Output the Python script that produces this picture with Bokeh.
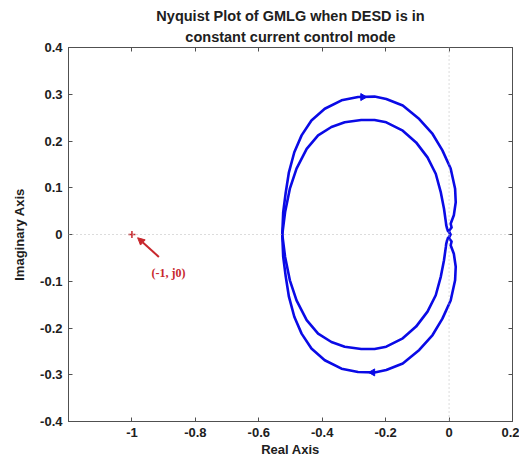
import math
from bokeh.plotting import figure
from bokeh.models import (Span, FixedTicker, LinearAxis, Range1d, Arrow, NormalHead,
                          Label, Title)
from bokeh.embed import file_html
from bokeh.resources import INLINE

# ---- data (upper half, positive imaginary part) ----
outer_re = [-0.526, -0.523, -0.515, -0.505, -0.488, -0.465, -0.434, -0.392, -0.339,
            -0.287, -0.235, -0.198, -0.146, -0.094, -0.052, -0.021, 0.005, 0.019,
            0.021, 0.015, 0.005]
outer_im = [0.000, 0.048, 0.090, 0.133, 0.176, 0.212, 0.244, 0.269, 0.287,
            0.294, 0.295, 0.290, 0.276, 0.247, 0.215, 0.180, 0.141, 0.098,
            0.069, 0.041, 0.023]
inner_re = [-0.526, -0.517, -0.502, -0.481, -0.449, -0.413, -0.371, -0.329, -0.277,
            -0.235, -0.198, -0.146, -0.104, -0.068, -0.042, -0.026, -0.016, -0.010]
inner_im = [0.000, 0.048, 0.098, 0.141, 0.183, 0.212, 0.230, 0.240, 0.245,
            0.245, 0.240, 0.222, 0.197, 0.165, 0.130, 0.090, 0.055, 0.026]
# small wiggle near the origin (from end of outer loop down to the real axis)
wig_re = [0.008, 0.002, -0.004, 0.002, 0.004]
wig_im = [0.015, 0.010, 0.008, 0.004, 0.000]
# from the real-axis crossing to the end of the (mirrored) inner loop
cross_re = [0.000, -0.006, -0.009]
cross_im = [-0.006, -0.012, -0.020]

arrow_re = [-0.272, -0.241]
arrow_im = [0.294, -0.295]

crit_re = [-1.0]
crit_im = [0.0]
annot_tail = (-0.915, -0.048)
annot_head = (-0.982, -0.007)
annot_text = "(-1, j0)"
annot_pos = (-0.885, -0.083)

x_ticks = [-1.0, -0.8, -0.6, -0.4, -0.2, 0.0, 0.2]
x_labels = ["-1", "-0.8", "-0.6", "-0.4", "-0.2", "0", "0.2"]
y_ticks = [-0.4, -0.3, -0.2, -0.1, 0.0, 0.1, 0.2, 0.3, 0.4]
y_labels = ["-0.4", "-0.3", "-0.2", "-0.1", "0", "0.1", "0.2", "0.3", "0.4"]

title_lines = ["Nyquist Plot of GMLG when DESD is in", "constant current control mode"]

# branch 1: upper outer -> wiggle -> lower inner ; branch 2: its conjugate
b1_re = outer_re + wig_re + cross_re + inner_re[::-1]
b1_im = outer_im + wig_im + cross_im + [-v for v in inner_im[::-1]]
b2_re = list(b1_re)
b2_im = [-v for v in b1_im]

FONT = "Liberation Sans"
DARK = "#202020"
AX = "#505050"

p = figure(width=519, height=463, output_backend="svg", toolbar_location=None,
           title=None,
           x_range=Range1d(-1.2, 0.2), y_range=Range1d(-0.4, 0.4),
           min_border_left=68, min_border_right=7, min_border_top=47, min_border_bottom=42)
p.background_fill_color = "white"
p.border_fill_color = "white"
p.grid.visible = False
p.outline_line_color = AX
p.outline_line_width = 1

for ax in [p.xaxis[0], p.yaxis[0]]:
    ax.axis_line_color = AX
    ax.major_tick_in = 4
    ax.major_tick_out = 0
    ax.major_tick_line_color = AX
    ax.minor_tick_line_color = None
    ax.major_label_text_font = FONT
    ax.major_label_text_font_size = "13px"
    ax.major_label_text_font_style = "bold"
    ax.major_label_text_color = DARK
    ax.axis_label_text_font = FONT
    ax.axis_label_text_font_size = "13px"
    ax.axis_label_text_font_style = "bold"
    ax.axis_label_text_color = DARK

p.xaxis[0].ticker = FixedTicker(ticks=x_ticks)
p.xaxis[0].major_label_overrides = dict(zip(x_ticks, x_labels))
p.xaxis[0].axis_label = "Real Axis"
p.xaxis[0].major_label_standoff = 6
p.xaxis[0].axis_label_standoff = 2
p.yaxis[0].ticker = FixedTicker(ticks=y_ticks)
p.yaxis[0].major_label_overrides = dict(zip(y_ticks, y_labels))
p.yaxis[0].axis_label = "Imaginary Axis"
p.yaxis[0].major_label_standoff = 6
p.yaxis[0].axis_label_standoff = 10

# box ticks on top and right (minor ticks only, so no labels)
top = LinearAxis(ticker=FixedTicker(ticks=[], minor_ticks=x_ticks),
                 major_tick_line_color=None, minor_tick_in=4, minor_tick_out=0,
                 minor_tick_line_color=AX, axis_line_color=AX, major_label_standoff=0)
right = LinearAxis(ticker=FixedTicker(ticks=[], minor_ticks=y_ticks),
                   major_tick_line_color=None, minor_tick_in=4, minor_tick_out=0,
                   minor_tick_line_color=AX, axis_line_color=AX, major_label_standoff=0)
p.add_layout(top, "above")
p.add_layout(right, "right")

# two centred title lines (later-added goes farther out)
for line, so in zip(title_lines[::-1], [6, 0]):
    p.add_layout(Title(text=line, align="center", text_font=FONT, text_font_size="14.5px",
                       text_font_style="bold", text_color=DARK, standoff=so, offset=0),
                 "above")

# dotted zero lines
p.add_layout(Span(location=0, dimension="width", line_color="#b8b8b8",
                  line_dash="1 3", line_width=1))
p.add_layout(Span(location=0, dimension="height", line_color="#b8b8b8",
                  line_dash="1 3", line_width=1))

BLUE = "#0a0ae6"
p.line(b1_re, b1_im, line_color=BLUE, line_width=2.6, line_join="round")
p.line(b2_re, b2_im, line_color=BLUE, line_width=2.6, line_join="round")
p.scatter(arrow_re, arrow_im, marker="triangle", size=7,
          angle=[-math.pi / 2, math.pi / 2],
          fill_color=BLUE, line_color=BLUE)

RED = "#c8282d"
p.scatter(crit_re, crit_im, marker="cross", size=7, line_color=RED, line_width=1.5)
p.add_layout(Arrow(x_start=annot_tail[0], y_start=annot_tail[1],
                   x_end=annot_head[0], y_end=annot_head[1],
                   line_color=RED, line_width=2,
                   end=NormalHead(size=7, fill_color=RED, line_color=RED)))
p.add_layout(Label(x=annot_pos[0], y=annot_pos[1], text=annot_text,
                   text_font="Liberation Serif", text_font_size="12px",
                   text_font_style="bold", text_color=RED,
                   text_align="center", text_baseline="middle"))

open("out.html", "w").write(file_html(p, INLINE))
